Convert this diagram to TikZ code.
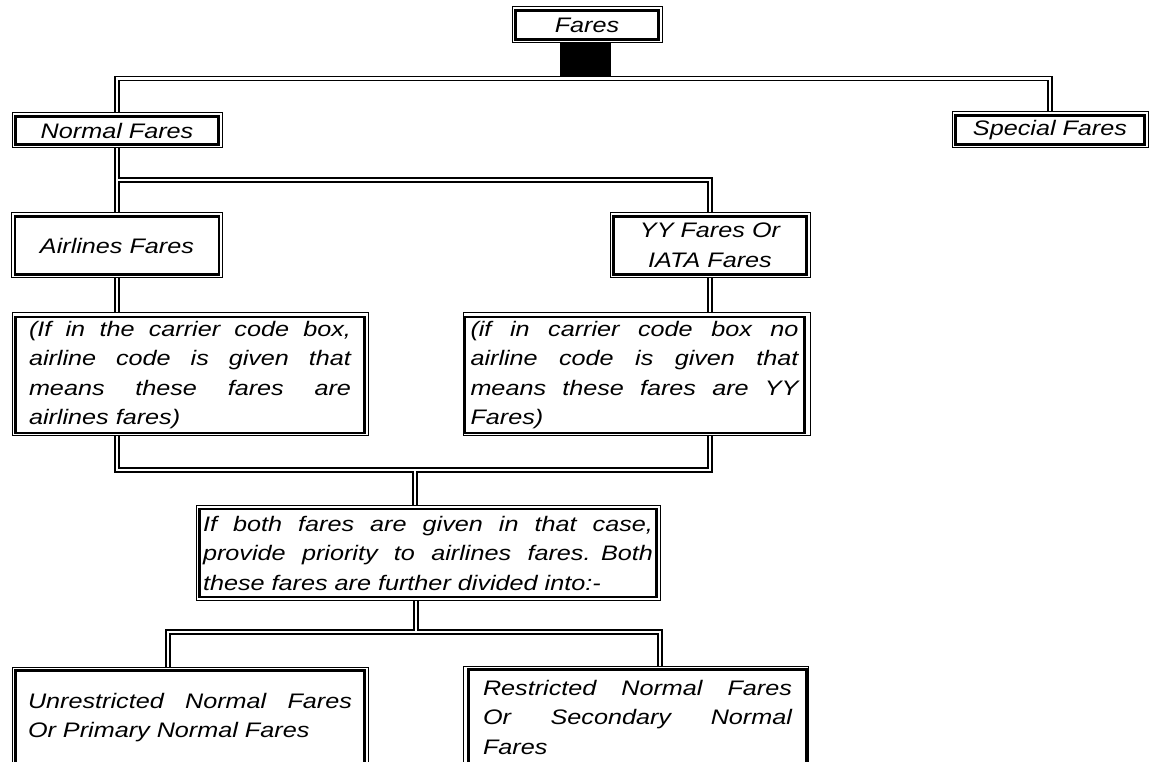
\documentclass[tikz,border=0pt]{standalone}
\usepackage{fontspec}
\newfontfamily\farefont{Liberation Sans}[FakeStretch=1.2]
\usetikzlibrary{backgrounds}
\newcommand\jl[2]{\leavevmode\hbox to #1{\spaceskip=\fontdimen2\font plus 1fil\relax #2}}
\newcommand\nl[1]{\leavevmode\hbox{#1}}
\begin{document}
\begin{tikzpicture}[x=1pt,y=-1pt,
  obox/.style={draw, line width=1pt, fill=white, inner sep=0pt},
  ibox/.style={draw, line width=2.2pt, inner sep=0pt, font=\fontsize{21}{29.5}\farefont\itshape},
  connout/.style={line width=5.6pt, draw=black, line join=miter},
  connin/.style={line width=2.6pt, draw=white, line join=miter},
]
\useasboundingbox (0,0) rectangle (1149,762);
\clip (0,0) rectangle (1149,762);

% Fares
\node[obox, minimum width=150pt, minimum height=36pt] (fares) at (587,25) {};
\node[ibox, minimum width=143pt, minimum height=29pt] (faresT) at (587,25) {Fares};
\node[fill=black, inner sep=0pt, minimum width=51pt, minimum height=34pt] (stem) at (585.5,60) {};
\coordinate (topline) at (587,78.5);

% Normal / Special
\node[obox, minimum width=210pt, minimum height=35pt] (normal) at (117,130.5) {};
\node[ibox, minimum width=203pt, minimum height=28pt] (normalT) at (117,130.5) {Normal Fares};
\node[obox, minimum width=196pt, minimum height=36pt] (special) at (1050,130) {};
\node[ibox, minimum width=189pt, minimum height=29pt] (specialT) at (1050,130) {Special Fares};

% Airlines / YY
\coordinate (j1) at (117,180);
\node[obox, minimum width=211pt, minimum height=65pt] (airlines) at (117,245.5) {};
\node[ibox, minimum width=204pt, minimum height=58pt] (airlinesT) at (117,245.5) {Airlines Fares};
\node[obox, minimum width=200pt, minimum height=65pt] (yy) at (710,245.5) {};
\node[ibox, minimum width=193pt, minimum height=58pt, align=center] (yyT) at (710,245.5) {YY Fares Or\\IATA Fares};

% explanation boxes
\node[obox, minimum width=356pt, minimum height=123pt] (ifa) at (190,373.5) {};
\node[ibox, minimum width=349pt, minimum height=116pt, text width=322pt, align=left] (ifaT) at (190,375)
  {\jl{322pt}{(If in the carrier code box,}\\\jl{322pt}{airline code is given that}\\\jl{322pt}{means these fares are}\\\nl{airlines fares)}};
\node[obox, minimum width=347pt, minimum height=123pt] (ifb) at (636.5,373.5) {};
\node[ibox, minimum width=340pt, minimum height=116pt, text width=328pt, align=left] (ifbT) at (634.5,375)
  {\jl{328pt}{(if in carrier code box no}\\\jl{328pt}{airline code is given that}\\\jl{328pt}{means these fares are YY}\\\nl{Fares)}};

% both
\coordinate (j3) at (415,470);
\node[obox, minimum width=464pt, minimum height=95pt] (both) at (428,552.5) {};
\node[ibox, minimum width=457pt, minimum height=88pt, text width=450pt, align=left] (bothT) at (428,553)
  {\jl{450pt}{If both fares are given in that case,}\\\jl{450pt}{provide priority to airlines fares. Both}\\\nl{these fares are further divided into:-}};

% bottom
\coordinate (j4) at (416,632);
\coordinate (j5) at (168,632);
\coordinate (j6) at (660,632);
\node[obox, minimum width=356pt, minimum height=101pt] (unres) at (190,717.5) {};
\node[ibox, minimum width=349pt, minimum height=94pt, text width=324pt, align=left] (unresT) at (190,717.5)
  {\jl{324pt}{Unrestricted Normal Fares}\\\nl{Or Primary Normal Fares}};
\node[obox, minimum width=345pt, minimum height=102pt] (restr) at (635.5,717) {};
\node[ibox, minimum width=338pt, minimum height=95pt, text width=309pt, align=left] (restrT) at (637.5,717)
  {\jl{309pt}{Restricted Normal Fares}\\\jl{309pt}{Or Secondary Normal}\\\nl{Fares}};

\begin{scope}[on background layer]
\fill[white] (0,0) rectangle (1149,762);
\foreach \s in {connout,connin}{
  \draw[\s] (normal.north) -- (normal.north |- topline) -| (special.north);
  \draw[\s] (normal.south) -- (airlines.north);
  \draw[\s] (j1) -| (yy.north);
  \draw[\s] (airlines.south) -- (airlines.south |- ifa.north);
  \draw[\s] (yy.south) -- (yy.south |- ifb.north);
  \draw[\s] (airlines.south |- ifa.south) -- (airlines.south |- j3) -| (yy.south |- ifb.south);
  \draw[\s] (j3) -- (j3 |- both.north);
  \draw[\s] (j4 |- both.south) -- (j4);
  \draw[\s] (j5 |- unres.north) -- (j5) -- (j6) -- (j6 |- restr.north);
}
\end{scope}
\end{tikzpicture}
\end{document}
